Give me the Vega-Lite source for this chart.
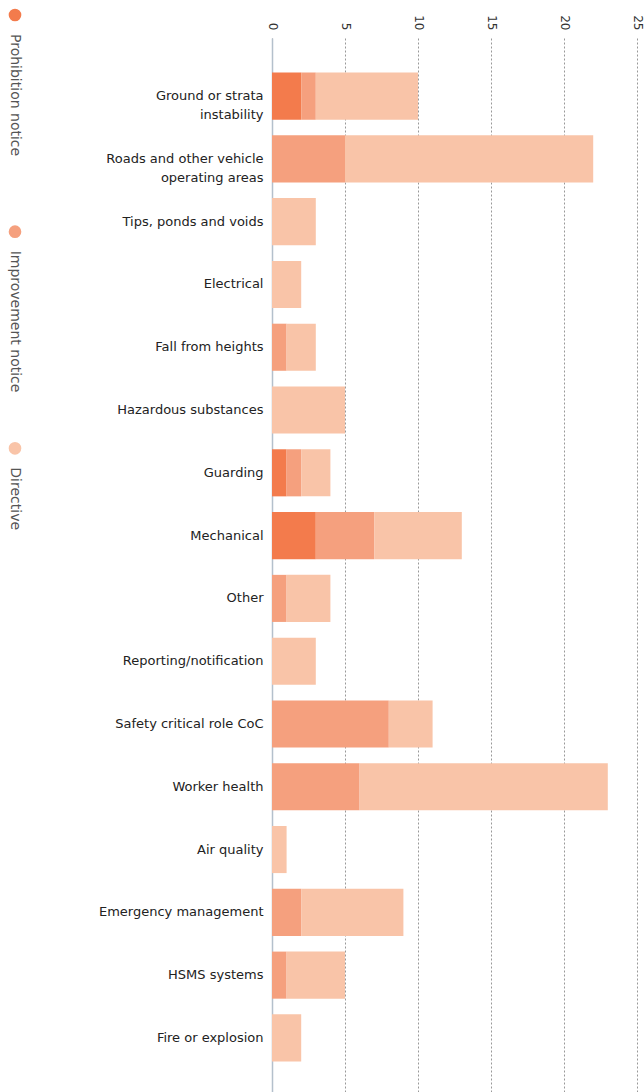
{
  "$schema": "https://vega.github.io/schema/vega-lite/v6.json",
  "background": "white",
  "padding": 5,
  "spacing": 0,
  "config": {"view": {"stroke": null}, "font": "DejaVu Sans"},
  "hconcat": [
    {
      "width": 20,
      "height": 650,
      "data": {
        "values": [
          {"type": "Prohibition notice"},
          {"type": "Improvement notice"},
          {"type": "Directive"}
        ]
      },
      "encoding": {
        "y": {
          "field": "type",
          "type": "nominal",
          "sort": ["Prohibition notice", "Improvement notice", "Directive"],
          "bandPosition": 0,
          "scale": {"type": "band", "paddingInner": 0, "paddingOuter": 0},
          "axis": null
        }
      },
      "layer": [
        {
          "mark": {"type": "circle", "size": 160, "opacity": 1, "yOffset": -23},
          "encoding": {
            "color": {
              "field": "type",
              "type": "nominal",
              "scale": {
                "domain": ["Prohibition notice", "Improvement notice", "Directive"],
                "range": ["#f37b4c", "#f5a07e", "#f9c4a8"]
              },
              "legend": null
            }
          }
        },
        {
          "mark": {
            "type": "text",
            "angle": 90,
            "align": "left",
            "baseline": "middle",
            "dx": -4,
            "fontSize": 14,
            "color": "#555555"
          },
          "encoding": {"text": {"field": "type", "type": "nominal"}}
        }
      ]
    },
    {
      "width": 365,
      "height": 1058,
      "data": {
        "values": [
          {"category": "Ground or strata instability", "type": "Prohibition notice", "value": 2},
          {"category": "Ground or strata instability", "type": "Improvement notice", "value": 1},
          {"category": "Ground or strata instability", "type": "Directive", "value": 7},
          {"category": "Roads and other vehicle operating areas", "type": "Improvement notice", "value": 5},
          {"category": "Roads and other vehicle operating areas", "type": "Directive", "value": 17},
          {"category": "Tips, ponds and voids", "type": "Directive", "value": 3},
          {"category": "Electrical", "type": "Directive", "value": 2},
          {"category": "Fall from heights", "type": "Improvement notice", "value": 1},
          {"category": "Fall from heights", "type": "Directive", "value": 2},
          {"category": "Hazardous substances", "type": "Directive", "value": 5},
          {"category": "Guarding", "type": "Prohibition notice", "value": 1},
          {"category": "Guarding", "type": "Improvement notice", "value": 1},
          {"category": "Guarding", "type": "Directive", "value": 2},
          {"category": "Mechanical", "type": "Prohibition notice", "value": 3},
          {"category": "Mechanical", "type": "Improvement notice", "value": 4},
          {"category": "Mechanical", "type": "Directive", "value": 6},
          {"category": "Other", "type": "Improvement notice", "value": 1},
          {"category": "Other", "type": "Directive", "value": 3},
          {"category": "Reporting/notification", "type": "Directive", "value": 3},
          {"category": "Safety critical role CoC", "type": "Improvement notice", "value": 8},
          {"category": "Safety critical role CoC", "type": "Directive", "value": 3},
          {"category": "Worker health", "type": "Improvement notice", "value": 6},
          {"category": "Worker health", "type": "Directive", "value": 17},
          {"category": "Air quality", "type": "Directive", "value": 1},
          {"category": "Emergency management", "type": "Improvement notice", "value": 2},
          {"category": "Emergency management", "type": "Directive", "value": 7},
          {"category": "HSMS systems", "type": "Improvement notice", "value": 1},
          {"category": "HSMS systems", "type": "Directive", "value": 4},
          {"category": "Fire or explosion", "type": "Directive", "value": 2}
        ]
      },
      "mark": {"type": "bar"},
      "encoding": {
        "y": {
          "field": "category",
          "type": "nominal",
          "sort": [
            "Ground or strata instability",
            "Roads and other vehicle operating areas",
            "Tips, ponds and voids",
            "Electrical",
            "Fall from heights",
            "Hazardous substances",
            "Guarding",
            "Mechanical",
            "Other",
            "Reporting/notification",
            "Safety critical role CoC",
            "Worker health",
            "Air quality",
            "Emergency management",
            "HSMS systems",
            "Fire or explosion"
          ],
          "scale": {"paddingInner": 0.25, "paddingOuter": 0.55},
          "axis": {
            "title": null,
            "ticks": false,
            "labelPadding": 9,
            "labelFontSize": 13,
            "labelColor": "#222222",
            "labelLimit": 300,
            "labelLineHeight": 19,
            "domainColor": "#b4c0cc",
            "domainWidth": 1.5,
            "minExtent": 247,
            "labelExpr": "datum.label == 'Ground or strata instability' ? ['Ground or strata', 'instability'] : datum.label == 'Roads and other vehicle operating areas' ? ['Roads and other vehicle', 'operating areas'] : datum.label"
          }
        },
        "x": {
          "field": "value",
          "type": "quantitative",
          "stack": "zero",
          "scale": {"domain": [0, 25], "nice": false},
          "axis": {
            "orient": "top",
            "title": null,
            "values": [0, 5, 10, 15, 20, 25],
            "ticks": false,
            "domain": false,
            "labelAngle": 90,
            "labelAlign": "right",
            "labelBaseline": "middle",
            "labelPadding": 8,
            "labelFontSize": 12,
            "labelColor": "#333333",
            "minExtent": 33,
            "gridDash": [2, 2],
            "gridColor": "#999999",
            "gridWidth": 1
          }
        },
        "color": {
          "field": "type",
          "type": "nominal",
          "scale": {
            "domain": ["Prohibition notice", "Improvement notice", "Directive"],
            "range": ["#f37b4c", "#f5a07e", "#f9c4a8"]
          },
          "legend": null
        },
        "order": {"field": "type", "sort": "descending"}
      }
    }
  ]
}
